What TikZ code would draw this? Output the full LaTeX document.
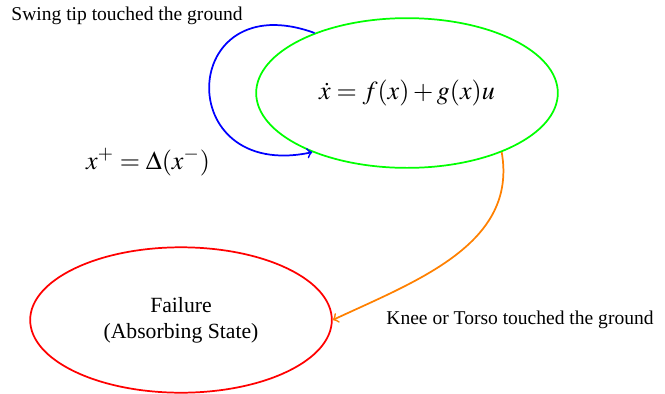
\documentclass[tikz,border=0pt]{standalone}
\usepackage{mathptmx}
\usepackage[no-math]{fontspec}
\setmainfont{Liberation Serif}
\usetikzlibrary{shapes.geometric}
\begin{document}
\begin{tikzpicture}[
  x=0.4608pt, y=-0.4608pt,
  state/.style={ellipse, draw, thick, minimum width=139pt, inner sep=0pt},
  mode/.style={state, draw=green, minimum height=69pt},
  absorb/.style={state, draw=red, minimum height=67pt, align=center},
  lbl/.style={font=\small, inner sep=0pt},
  jump/.style={->, thick}
]
\useasboundingbox (0,0) rectangle (665,393);
% states
\node[mode]   (cont) at (407,93)  {\large $\dot{x} = f(x) + g(x)u$};
\node[absorb] (fail) at (181,320) {Failure\\(Absorbing State)};
% labels
\node[lbl] (swing) at (127,16)  {Swing tip touched the ground};
\node[inner sep=0pt] (reset) at (148,162) {\large $x^{+} = \Delta(x^{-})$};
\node[lbl] (knee)  at (520,320) {Knee or Torso touched the ground};
% transitions
\draw[jump, blue]   (cont.147) to[out=160, in=192, looseness=3.1] (cont.212);
\draw[jump, orange] (cont.328) to[out=-80, in=25] (fail.east);
\end{tikzpicture}
\end{document}
